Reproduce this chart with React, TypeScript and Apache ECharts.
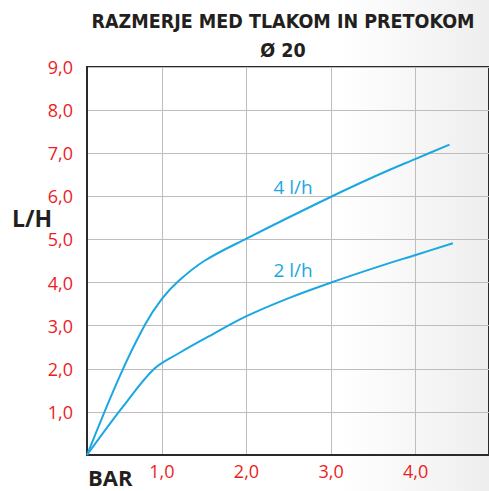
import React, { useEffect, useRef } from "react";
import * as echarts from "echarts";

const titleLines = ["RAZMERJE MED TLAKOM IN PRETOKOM", "Ø 20"];
const xTicks = [1, 2, 3, 4];
const seriesNames = ["4 l/h", "2 l/h"];
const flow4: [number, number][] = [
  [0.115, 0], [0.5, 1.82], [0.8, 3.02], [1.0, 3.62], [1.2, 4.04], [1.5, 4.5],
  [2.0, 5.02], [3.0, 5.99], [3.56, 6.5], [4.0, 6.87], [4.4, 7.2],
];
const flow2: [number, number][] = [
  [0.115, 0], [0.54, 1.12], [0.91, 2.0], [1.2, 2.36], [1.6, 2.8],
  [2.0, 3.22], [2.5, 3.64], [3.0, 4.0], [3.56, 4.37], [4.0, 4.64], [4.44, 4.91],
];

const RED = "#ec1c24";
const BLUE = "#1ba7e1";
const COND = "'Liberation Sans Narrow', 'DejaVu Sans Condensed', 'Open Sans', sans-serif";
const fmt = (v: number) => v.toFixed(1).replace(".", ",");

export default function App() {
  const ref = useRef<HTMLDivElement>(null);
  useEffect(() => {
    document.body.style.margin = "0";
    const chart = echarts.init(ref.current!, null, { renderer: "svg" });
    chart.setOption({
      animation: false,
      backgroundColor: {
        type: "linear", x: 0, y: 0, x2: 1, y2: 0,
        colorStops: [
          { offset: 0, color: "#ffffff" },
          { offset: 0.7, color: "#ffffff" },
          { offset: 1, color: "#eeeeee" },
        ],
      },
      grid: { left: 87, top: 67, right: -2, bottom: 36, show: true, borderColor: "#2a2a2a", borderWidth: 2, backgroundColor: "transparent" },
      xAxis: {
        type: "value",
        min: 0.115,
        max: 4.867,
        axisLine: { show: true, lineStyle: { color: "#2a2a2a", width: 2 } },
        axisTick: { show: false, customValues: xTicks },
        axisLabel: { customValues: xTicks, formatter: (v: number) => fmt(v), color: RED, fontSize: 18, margin: 7, fontFamily: "'Open Sans', sans-serif" },
        splitLine: { show: true, lineStyle: { color: "#bdbdbd", width: 1 } },
      },
      yAxis: {
        type: "value",
        min: 0,
        max: 9,
        interval: 1,
        axisLine: { show: true, lineStyle: { color: "#2a2a2a", width: 2 } },
        axisTick: { show: false },
        axisLabel: { formatter: (v: number) => (v === 0 ? "" : fmt(v)), color: RED, fontSize: 18, margin: 14, fontFamily: "'Open Sans', sans-serif" },
        splitLine: { show: true, lineStyle: { color: "#bdbdbd", width: 1 } },
      },
      series: [
        { name: seriesNames[0], type: "line", data: flow4, smooth: 0.35, symbol: "none", lineStyle: { color: BLUE, width: 2 } },
        { name: seriesNames[1], type: "line", data: flow2, smooth: 0.35, symbol: "none", lineStyle: { color: BLUE, width: 2 } },
      ],
      graphic: [
        { type: "text", x: 283, y: 21, style: { text: titleLines[0], fill: "#231f20", font: `bold 19.5px ${COND}`, textAlign: "center", textVerticalAlign: "middle" } },
        { type: "text", x: 283, y: 50, style: { text: titleLines[1], fill: "#231f20", font: `bold 19.5px ${COND}`, textAlign: "center", textVerticalAlign: "middle" } },
        { type: "text", x: 12, y: 218, style: { text: "L/H", fill: "#231f20", font: `bold 23px 'Open Sans', sans-serif`, textAlign: "left", textVerticalAlign: "middle" } },
        { type: "text", x: 88, y: 477, style: { text: "BAR", fill: "#231f20", font: `bold 22px 'Open Sans', sans-serif`, textAlign: "left", textVerticalAlign: "middle" } },
        { type: "text", x: 293, y: 187, style: { text: seriesNames[0], fill: BLUE, font: `19px 'Open Sans', sans-serif`, textAlign: "center", textVerticalAlign: "middle" } },
        { type: "text", x: 293, y: 270, style: { text: seriesNames[1], fill: BLUE, font: `19px 'Open Sans', sans-serif`, textAlign: "center", textVerticalAlign: "middle" } },
      ],
    });
    return () => chart.dispose();
  }, []);
  return <div ref={ref} style={{ width: 489, height: 491 }} />;
}
